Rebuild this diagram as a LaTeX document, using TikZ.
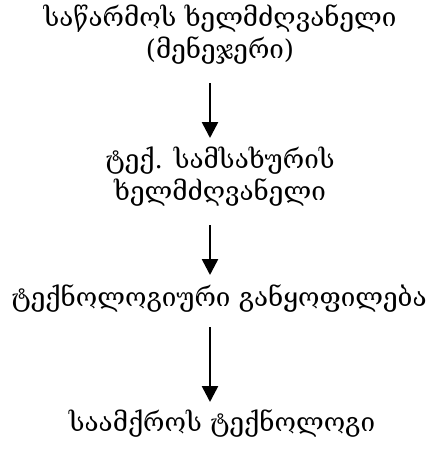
\documentclass[tikz,border=0pt]{standalone}
\usepackage{fontspec}
\newfontfamily\geofont{DejaVu Serif}
\usetikzlibrary{arrows.meta}
\begin{document}
\begin{tikzpicture}[x=1pt,y=-1pt,
  level/.style={font=\geofont\fontsize{26}{32}\selectfont, align=center, inner sep=0pt},
  link/.style={line width=2.6pt, -{Triangle[length=16pt,width=16pt]}}]
\useasboundingbox (0,0) rectangle (435,455);
\node[level] (a) at (220,35) {საწარმოს ხელმძღვანელი\\(მენეჯერი)};
\node[level] (b) at (220,177) {ტექ. სამსახურის\\ხელმძღვანელი};
\node[level] (c) at (219,298) {ტექნოლოგიური განყოფილება};
\node[level] (d) at (222,423) {საამქროს ტექნოლოგი};
\coordinate (a1) at (210,83);  \coordinate (b0) at (210,138);
\coordinate (b1) at (210,225); \coordinate (c0) at (210,275);
\coordinate (c1) at (210,327); \coordinate (d0) at (210,402);
\draw[link] (a1) -- (b0);
\draw[link] (b1) -- (c0);
\draw[link] (c1) -- (d0);
\end{tikzpicture}
\end{document}
